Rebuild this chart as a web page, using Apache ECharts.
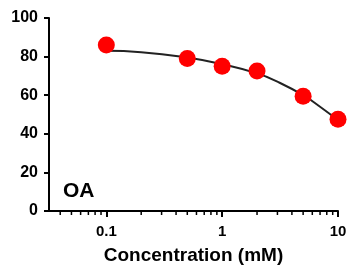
<!DOCTYPE html>
<html>
<head>
<meta charset="utf-8">
<script src="https://cdn.jsdelivr.net/npm/echarts@6/dist/echarts.min.js"></script>
<style>
  html, body { margin: 0; padding: 0; background: #fff; }
  #chart { width: 347px; height: 267px; }
</style>
</head>
<body>
<div id="chart"></div>
<script>
// measured points
var concentration = [0.1, 0.5, 1, 2, 5, 10];
var response = [86, 79, 75, 72.5, 59.5, 47.5];
// fitted curve
var fitX = [0.1, 0.2, 0.5, 1, 2, 3, 5, 7, 10];
var fitY = [83, 82.3, 79.5, 76, 71.3, 67, 60, 54, 47];
// minor tick positions on the log axis
var minorTicks = [0.04, 0.05, 0.06, 0.07, 0.08, 0.09, 0.2, 0.3, 0.4, 0.5, 0.6, 0.7, 0.8, 0.9, 2, 3, 4, 5, 6, 7, 8, 9];
var xLabels = [0.1, 1, 10];

var chart = echarts.init(document.getElementById("chart"));
var option = {
  animation: false,
  title: {
    text: "OA",
    left: 58,
    top: 176,
    textStyle: { fontFamily: "Liberation Sans", fontWeight: "bold", fontSize: 21, color: "#000" },
  },
  grid: { left: 49, right: 9, top: 18, bottom: 56, containLabel: false, outerBoundsMode: "none" },
  xAxis: {
    type: "log",
    logBase: 10,
    min: 0.032,
    max: 10,
    name: "Concentration (mM)",
    nameLocation: "middle",
    nameGap: 35,
    nameTextStyle: { fontFamily: "Liberation Sans", fontWeight: "bold", fontSize: 19, color: "#000" },
    axisLine: { lineStyle: { color: "#000", width: 2 } },
    axisTick: { length: 6, lineStyle: { color: "#000", width: 2 } },
    axisLabel: {
      showMinLabel: false,
      margin: 13,
      fontFamily: "Liberation Sans",
      fontWeight: "bold",
      fontSize: 15,
      color: "#000",
      formatter: function (v) {
        var n = +v.toPrecision(3);
        return xLabels.indexOf(n) >= 0 ? String(n) : "";
      },
    },
    splitLine: { show: false },
  },
  yAxis: {
    type: "value",
    min: 0,
    max: 100,
    interval: 20,
    axisLine: { show: true, lineStyle: { color: "#000", width: 2 } },
    axisTick: { show: true, length: 5, lineStyle: { color: "#000", width: 2 } },
    axisLabel: {
      margin: 11,
      fontFamily: "Liberation Sans",
      fontWeight: "bold",
      fontSize: 16,
      color: "#000",
    },
    splitLine: { show: false },
  },
  series: [
    {
      type: "custom",
      clip: false,
      silent: true,
      data: minorTicks.map(function (x) { return [x, 0]; }),
      renderItem: function (params, api) {
        var p = api.coord([api.value(0), 0]);
        return {
          type: "line",
          shape: { x1: p[0], y1: p[1], x2: p[0], y2: p[1] + 4 },
          style: { stroke: "#000", lineWidth: 1.5 },
        };
      },
    },
    {
      type: "line",
      smooth: true,
      showSymbol: false,
      clip: false,
      lineStyle: { color: "#222", width: 2 },
      data: fitX.map(function (x, i) { return [x, fitY[i]]; }),
      z: 2,
    },
    {
      type: "scatter",
      symbol: "circle",
      symbolSize: 17,
      clip: false,
      itemStyle: { color: "#ff0000", opacity: 1 },
      data: concentration.map(function (x, i) { return [x, response[i]]; }),
      z: 3,
    },
  ],
};
chart.setOption(option);
window.addEventListener("resize", function () {
  chart.resize();
});
</script>
</body>
</html>
